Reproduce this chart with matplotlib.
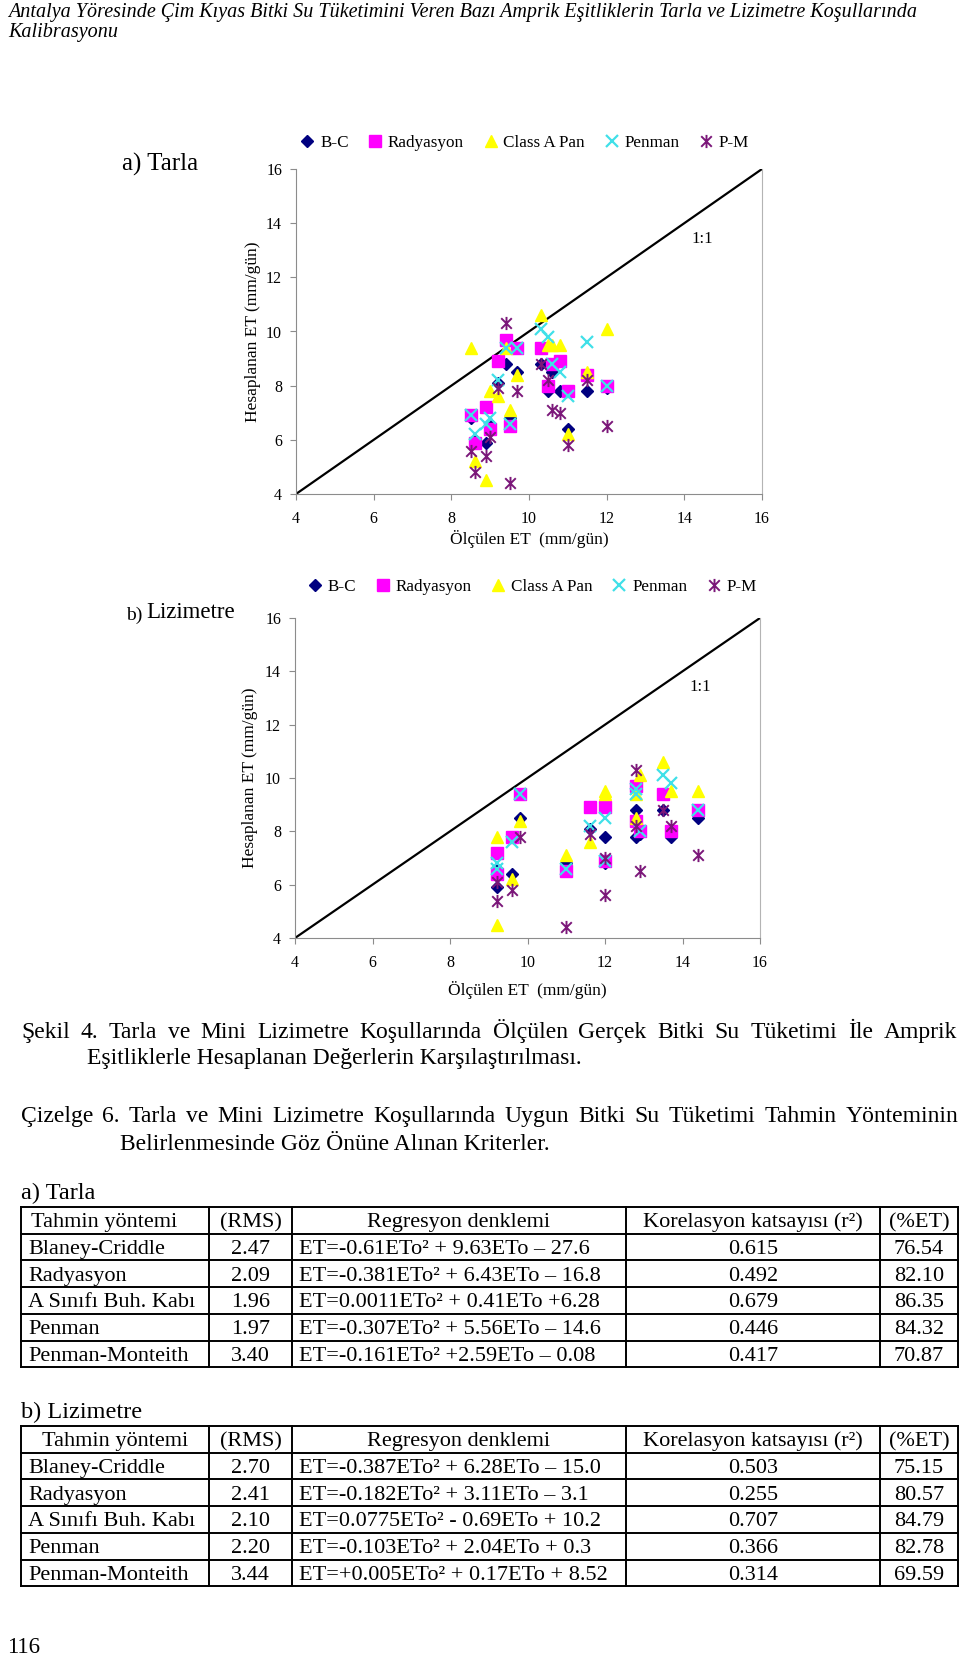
import numpy as np
import matplotlib.pyplot as plt
from matplotlib.path import Path

plt.rcParams['font.family'] = ['Liberation Serif', 'DejaVu Serif']

# measured ET (mm/gün) per day, field and lysimeter (one field day has no lysimeter point)
olculen_tarla = [8.5, 8.6, 8.9, 9.0, 9.2, 9.4, 9.5, 9.7, 10.3, 10.5, 10.6, 10.8, 11.0, 11.5, 12.0]
olculen_lizi = [12.0, np.nan, 9.2, 9.2, 11.6, 12.8, 11.0, 9.8, 13.5, 13.7, 14.4, 12.0, 9.6, 12.8, 12.9]

# computed ET for each method, same days
bc = [6.8, 6.0, 5.9, 6.6, 8.1, 8.8, 6.8, 8.5, 8.8, 7.8, 8.5, 7.8, 6.4, 7.8, 7.9]
radyasyon = [6.9, 5.9, 7.2, 6.4, 8.9, 9.7, 6.5, 9.4, 9.4, 8.0, 8.8, 8.9, 7.8, 8.4, 8.0]
class_a = [9.4, 5.2, 4.5, 7.8, 7.6, 9.4, 7.1, 8.4, 10.6, 9.5, 9.5, 9.5, 6.2, 8.5, 10.1]
penman = [6.9, 6.2, 6.6, 6.8, 8.2, 9.4, 6.6, 9.4, 10.1, 9.8, 8.8, 8.5, 7.6, 9.6, 8.0]
pm = [5.6, 4.8, 5.4, 6.1, 7.9, 10.3, 4.4, 7.8, 8.8, 8.2, 7.1, 7.0, 5.8, 8.2, 6.5]

series_names = ['B-C', 'Radyasyon', 'Class A Pan', 'Penman', 'P-M']
ticks = [4, 6, 8, 10, 12, 14, 16]

# table values
methods = ['Blaney-Criddle', 'Radyasyon', 'A Sınıfı Buh. Kabı', 'Penman', 'Penman-Monteith']
headers = ['Tahmin yöntemi', '(RMS)', 'Regresyon denklemi', 'Korelasyon katsayısı (r²)', '(%ET)']
rms_a = [2.47, 2.09, 1.96, 1.97, 3.40]
denklem_a = ['ET=-0.61ETo² + 9.63ETo – 27.6', 'ET=-0.381ETo² + 6.43ETo – 16.8',
             'ET=0.0011ETo² + 0.41ETo +6.28', 'ET=-0.307ETo² + 5.56ETo – 14.6',
             'ET=-0.161ETo² +2.59ETo – 0.08']
r2_a = [0.615, 0.492, 0.679, 0.446, 0.417]
yuzde_a = [76.54, 82.10, 86.35, 84.32, 70.87]
rms_b = [2.70, 2.41, 2.10, 2.20, 3.44]
denklem_b = ['ET=-0.387ETo² + 6.28ETo – 15.0', 'ET=-0.182ETo² + 3.11ETo – 3.1',
             'ET=0.0775ETo² - 0.69ETo + 10.2', 'ET=-0.103ETo² + 2.04ETo + 0.3',
             'ET=+0.005ETo² + 0.17ETo + 8.52']
r2_b = [0.503, 0.255, 0.707, 0.366, 0.314]
yuzde_b = [75.15, 80.57, 84.79, 82.78, 69.59]

W, H = 960, 1657
fig = plt.figure(figsize=(W / 100, H / 100), dpi=100)


def box(x0, y0, x1, y1):
    return [x0 / W, 1 - y1 / H, (x1 - x0) / W, (y1 - y0) / H]


page = fig.add_axes([0, 0, 1, 1])
page.set_xlim(0, W)
page.set_ylim(H, 0)
page.axis('off')

ast = Path([(-1, -1), (1, 1), (-1, 1), (1, -1), (0, -1.25), (0, 1.25)],
           [Path.MOVETO, Path.LINETO] * 3)
styles = [
    dict(marker='D', ms=6.5, color='#000080', mec='#000080'),
    dict(marker='s', ms=8, color='#FF00FF', mec='#FF00FF'),
    dict(marker='^', ms=9, color='#FFFF00', mec='#FFFF00'),
    dict(marker='x', ms=8.5, color='#40E0E8', mew=1.6),
    dict(marker=ast, ms=9.5, color='#7B1779', mew=1.4),
]
gray = '#8c8c8c'


def panel(rect, xs, leg_anchor, label_x, xlabel_y):
    ax = fig.add_axes(box(*rect))
    ax.plot([4, 16], [4, 16], color='black', lw=1.6, zorder=1)
    for name, ys, st in zip(series_names, [bc, radyasyon, class_a, penman, pm], styles):
        ax.plot(xs, ys, ls='none', label=name, zorder=3, **st)
    ax.set_xlim(4, 16)
    ax.set_ylim(4, 16)
    ax.set_xticks(ticks)
    ax.set_yticks(ticks)
    ax.spines['top'].set_visible(False)
    for s in ['left', 'bottom']:
        ax.spines[s].set_color(gray)
    ax.spines['right'].set_color('#b4b4b4')
    ax.spines['right'].set_linewidth(0.8)
    ax.tick_params(color=gray, labelcolor='black', length=4, labelsize=11.5, pad=6)
    ax.tick_params(axis='x', pad=8)
    ax.set_xlabel('Ölçülen ET  (mm/gün)', fontsize=12.5)
    ax.set_ylabel('Hesaplanan ET (mm/gün)', fontsize=12.5)
    ax.yaxis.set_label_coords(label_x, 0.5)
    ax.xaxis.set_label_coords(0.5, xlabel_y)
    ax.text(14.45, 13.4, '1:1', fontsize=12, ha='center', va='center')
    ax.legend(ncol=5, frameon=False, loc='center', bbox_to_anchor=leg_anchor,
              handlelength=0.9, handletextpad=0.3, columnspacing=1.1,
              fontsize=12.3, borderaxespad=0)
    return ax


ax1 = panel((296, 169, 762, 494), olculen_tarla, (0.49, 1.08), -0.076, -0.112)
ax2 = panel((295, 618, 760, 938), olculen_lizi, (0.51, 1.097), -0.079, -0.133)

page.text(122, 164, 'a) Tarla', fontsize=18, va='center')
page.text(126, 615, 'b)', fontsize=14, va='center')
page.text(146, 613, 'Lizimetre', fontsize=16.5, va='center')

# title
page.text(8, 17, 'Antalya Yöresinde Çim Kıyas Bitki Su Tüketimini Veren Bazı Amprik '
          'Eşitliklerin Tarla ve Lizimetre Koşullarında', fontsize=14.5, style='italic', va='baseline')
page.text(8, 37, 'Kalibrasyonu', fontsize=14.5, style='italic', va='baseline')

renderer = fig.canvas.get_renderer()


def justified(line, x0, x1, y, size):
    ts = [page.text(0, y, w, fontsize=size, va='baseline') for w in line.split()]
    ws = [t.get_window_extent(renderer).width for t in ts]
    gap = (x1 - x0 - sum(ws)) / (len(ws) - 1)
    x = x0
    for t, w in zip(ts, ws):
        t.set_x(x)
        x += w + gap


cap = 17
justified('Şekil 4. Tarla ve Mini Lizimetre Koşullarında Ölçülen Gerçek Bitki Su Tüketimi İle Amprik',
          21, 957, 1038, cap)
page.text(87, 1064, 'Eşitliklerle Hesaplanan Değerlerin Karşılaştırılması.', fontsize=cap, va='baseline')
justified('Çizelge 6. Tarla ve Mini Lizimetre Koşullarında Uygun Bitki Su Tüketimi Tahmin Yönteminin',
          21, 958, 1122, cap)
page.text(120, 1150, 'Belirlenmesinde Göz Önüne Alınan Kriterler.', fontsize=cap, va='baseline')

cols = [21, 209, 292, 626, 880, 958]
row_h = 26.7
tsize = 16


def table(top, rms, denk, r2, yuzde, center_first):
    ys = top + row_h * np.arange(7)
    for y in ys:
        page.plot([cols[0], cols[-1]], [y, y], color='black', lw=1.4)
    for x in cols:
        page.plot([x, x], [ys[0], ys[-1]], color='black', lw=1.4)
    base = ys[:-1] + row_h / 2 + 7
    c = [(a + b) / 2 for a, b in zip(cols[:-1], cols[1:])]
    if center_first:
        page.text(c[0], base[0], headers[0], fontsize=tsize, ha='center', va='baseline')
    else:
        page.text(cols[0] + 10, base[0], headers[0], fontsize=tsize, va='baseline')
    for i in range(1, 5):
        page.text(c[i], base[0], headers[i], fontsize=tsize, ha='center', va='baseline')
    for k in range(5):
        y = base[k + 1]
        page.text(cols[0] + 7, y, methods[k], fontsize=tsize, va='baseline')
        page.text(c[1], y, f'{rms[k]:.2f}', fontsize=tsize, ha='center', va='baseline')
        page.text(cols[2] + 7, y, denk[k], fontsize=tsize, va='baseline')
        page.text(c[3], y, f'{r2[k]:.3f}', fontsize=tsize, ha='center', va='baseline')
        page.text(c[4], y, f'{yuzde[k]:.2f}', fontsize=tsize, ha='center', va='baseline')


page.text(21, 1199, 'a) Tarla', fontsize=17.5, va='baseline')
table(1207, rms_a, denklem_a, r2_a, yuzde_a, False)
page.text(21, 1418, 'b) Lizimetre', fontsize=17.5, va='baseline')
table(1426, rms_b, denklem_b, r2_b, yuzde_b, True)

page.text(7, 1653, '116', fontsize=16.5, va='baseline')

fig.savefig('out.png', dpi=100)
